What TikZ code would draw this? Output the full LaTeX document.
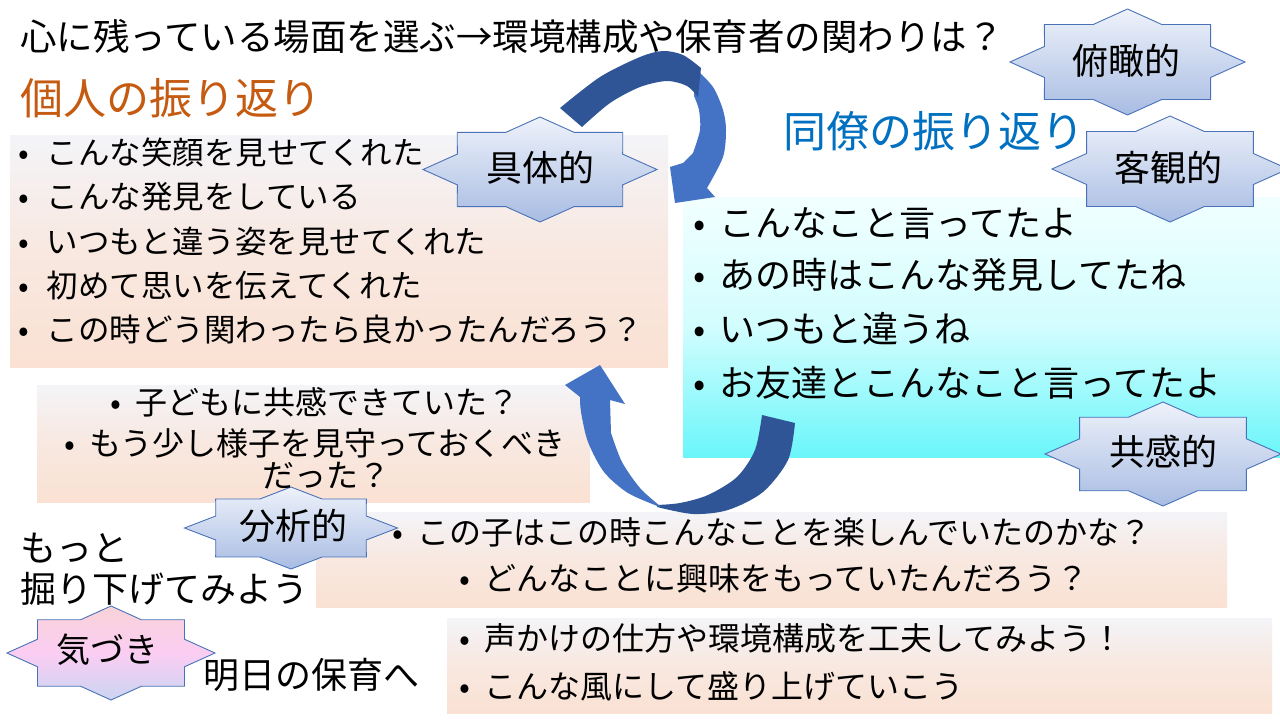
\documentclass[tikz,border=0pt]{standalone}
\usepackage{fontspec}
\setmainfont{Noto Sans CJK JP}
\definecolor{orangeT}{HTML}{C55A11}
\definecolor{blueT}{HTML}{0070C0}
\definecolor{peachTop}{HTML}{F4F4F8}
\definecolor{peachMid}{HTML}{F8E8E0}
\definecolor{peachBot}{HTML}{FAE1D3}
\definecolor{cyanTop}{HTML}{F2FFFF}
\definecolor{cyanMid}{HTML}{D2FDFE}
\definecolor{cyanBot}{HTML}{6AF6FA}
\definecolor{starTop}{HTML}{EEF2FA}
\definecolor{starBot}{HTML}{A8BCE3}
\definecolor{starLine}{HTML}{4A72B8}
\definecolor{arrDark}{HTML}{2F5597}
\definecolor{arrLight}{HTML}{4472C4}
\definecolor{pinkTop}{HTML}{F8D3D8}
\definecolor{pinkMid}{HTML}{FBCDF3}
\definecolor{pinkBot}{HTML}{CBD5F2}
\newcommand\bul[1][14pt]{\makebox[11pt][c]{•}\hspace*{#1}}
\newcommand\sealstar[5]{%
  \begin{scope}[shift={(#2,#3)}]
  \path[#1] (#4,0) \foreach \k [evaluate=\k as \rr using {ifthenelse(mod(\k,2)==0,1,0.765)}] in {1,...,15}{ -- ({#4*\rr*cos(\k*22.5)},{#5*\rr*sin(\k*22.5)}) } -- cycle;
  \end{scope}}
\begin{document}
\begin{tikzpicture}[x=1pt,y=-1pt,
  txt/.style={inner sep=0pt, anchor=base west},
  ctxt/.style={inner sep=0pt, anchor=base},
  lbl/.style={inner sep=0pt, anchor=center, font=\fontsize{36pt}{40pt}\selectfont},
  fT/.style={font=\fontsize{36pt}{40pt}\selectfont},
  fTi/.style={font=\fontsize{36.5pt}{40pt}\selectfont},
  fH/.style={font=\fontsize{43pt}{46pt}\selectfont},
  fL/.style={font=\fontsize{31.5pt}{36pt}\selectfont},
  fM/.style={font=\fontsize{32pt}{36pt}\selectfont},
  peachbox/.style={draw=none, inner sep=0pt, anchor=north west, top color=peachTop, bottom color=peachBot, middle color=peachMid},
  cyanbox/.style={draw=none, inner sep=0pt, anchor=north west, top color=cyanTop, bottom color=cyanBot, middle color=cyanMid},
  starstyle/.style={draw=starLine, line width=0.9pt, top color=starTop, bottom color=starBot},
  pinkstar/.style={draw=starLine, line width=0.9pt, top color=pinkTop, bottom color=pinkBot, middle color=pinkMid},
]
\useasboundingbox (0,0) rectangle (1280,720);
\fill[white] (0,0) rectangle (1280,720);

% boxes
\node[peachbox, minimum width=658pt, minimum height=232pt] (lbox) at (10,135) {};
\node[cyanbox, minimum width=600pt, minimum height=260pt] (rbox) at (683,197) {};
\node[peachbox, minimum width=553pt, minimum height=117pt] (mbox) at (37,385) {};
\node[peachbox, minimum width=911pt, minimum height=95pt] (b1box) at (316,512) {};
\node[peachbox, minimum width=825pt, minimum height=95pt] (b2box) at (447,618) {};

% top circular arrow
\fill[arrLight] plot[smooth] coordinates {(695,68) (713,87) (723,110) (726,130) (723,157) (707,188)}
  -- (715,197) -- (675,203) -- (670,167) -- (683,163)
  -- plot[smooth] coordinates {(693,153) (700,130) (699,110) (694,96)} -- cycle;
\fill[arrDark] plot[smooth] coordinates {(560,108) (600,77) (640,57) (663,51) (683,55) (701,68)}
  -- plot[smooth] coordinates {(698,97) (687,86) (667,81) (640,87) (610,103) (582,127)} -- cycle;

% bottom circular arrow
\fill[arrDark] plot[smooth] coordinates {(795,423) (788,460) (763,492) (728,510) (693,514) (657,507)}
  -- plot[smooth] coordinates {(657,505) (680,503) (708,495) (737,477) (755,450) (762,415)} -- cycle;
\fill[arrLight] plot[smooth] coordinates {(660,507) (628,493) (604,472) (588,442) (581,412) (580,397)}
  -- (565,385) -- (600,365) -- (625,404) -- (610,400)
  -- plot[smooth] coordinates {(611,433) (622,462) (640,488) (660,506)} -- cycle;

% stars
\sealstar{starstyle}{540}{169.5}{117}{52.5}
\node[lbl] (gutai) at (540,168) {具体的};
\sealstar{starstyle}{1127.5}{62}{117.5}{53}
\node[lbl] (fukan) at (1126,61) {俯瞰的};
\sealstar{starstyle}{1170}{169}{118}{53}
\node[lbl] (kyakkan) at (1168,168) {客観的};
\sealstar{starstyle}{1163}{454}{118}{52}
\node[lbl] (kyokan) at (1163,452) {共感的};
\sealstar{starstyle}{291}{528}{106.5}{41}
\node[lbl] (bunseki) at (293,526) {分析的};
\sealstar{pinkstar}{111}{653}{104}{47}
\node[lbl, font=\fontsize{34pt}{38pt}\selectfont] (kizuki) at (107,650) {気づき};

% headings
\node[txt, fTi] (title) at (20,50) {心に残っている場面を選ぶ→環境構成や保育者の関わりは？};
\node[txt, fH, text=orangeT] (kojin) at (20,114) {個人の振り返り};
\node[txt, fH, text=blueT] (doryo) at (783,147) {同僚の振り返り};

% left box lines
\node[txt, fL] (l1) at (18,164) {\bul[17.5pt]こんな笑顔を見せてくれた};
\node[txt, fL] (l2) at (18,208) {\bul[17.5pt]こんな発見をしている};
\node[txt, fL] (l3) at (18,253) {\bul[17.5pt]いつもと違う姿を見せてくれた};
\node[txt, fL] (l4) at (18,297) {\bul[17.5pt]初めて思いを伝えてくれた};
\node[txt, fL] (l5) at (18,341) {\bul[17.5pt]この時どう関わったら良かったんだろう？};

% right box lines
\node[txt, fT] (r1) at (693.5,236) {\bul[14.5pt]こんなこと言ってたよ};
\node[txt, fT] (r2) at (693.5,288) {\bul[14.5pt]あの時はこんな発見してたね};
\node[txt, fT] (r3) at (693.5,342) {\bul[14.5pt]いつもと違うね};
\node[txt, fT] (r4) at (693.5,396) {\bul[14.5pt]お友達とこんなこと言ってたよ};

% middle box lines
\node[ctxt, fM] (m1) at (315,414) {\bul[14.5pt]子どもに共感できていた？};
\node[ctxt, fM] (m2) at (315,455) {\bul[14.5pt]もう少し様子を見守っておくべき};
\node[ctxt, fM] (m3) at (326,487) {だった？};

% deeper
\node[txt, fT] (motto) at (20,561) {もっと};
\node[txt, fT] (horisage) at (20,602) {掘り下げてみよう};
\node[ctxt, fM] (b11) at (772,544) {\bul[14pt]この子はこの時こんなことを楽しんでいたのかな？};
\node[ctxt, fM] (b12) at (774,590) {\bul[14pt]どんなことに興味をもっていたんだろう？};

% tomorrow
\node[txt, fT] (ashita) at (203,688) {明日の保育へ};
\node[txt, fM] (b21) at (459.5,650) {\bul[14pt]声かけの仕方や環境構成を工夫してみよう！};
\node[txt, fM] (b22) at (459.5,698) {\bul[14pt]こんな風にして盛り上げていこう};
\end{tikzpicture}
\end{document}
